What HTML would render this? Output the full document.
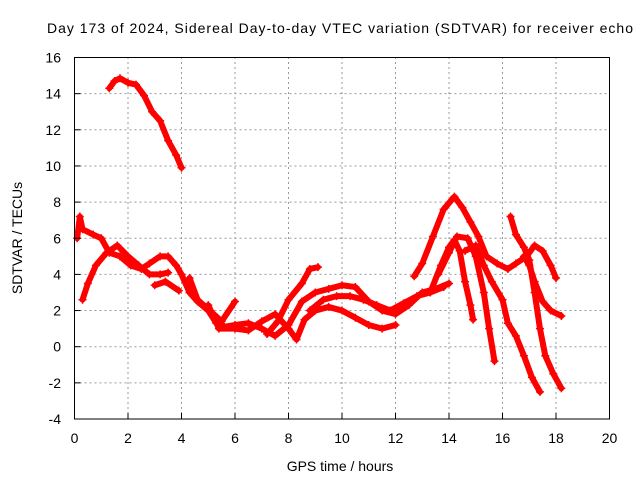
<!DOCTYPE html>
<html><head><meta charset="utf-8"><style>body{margin:0;background:#fff}svg{display:block;font-family:"Liberation Sans",sans-serif}</style></head>
<body>
<svg id="chart" width="640" height="480">
<rect width="640" height="480" fill="#fff"/>
<text x="340" y="33" font-size="14" text-anchor="middle" textLength="586">Day 173 of 2024, Sidereal Day-to-day VTEC variation (SDTVAR) for receiver echo</text>
<g id="grid"></g>
<g id="series"></g>
<rect x="74.5" y="57.5" width="535" height="361.5" fill="none" stroke="#000" stroke-width="1"/>
<g id="ticks" font-size="14"></g>
<text x="340" y="471" font-size="14" text-anchor="middle">GPS time / hours</text>
<text transform="translate(22,238) rotate(-90)" font-size="14" text-anchor="middle">SDTVAR / TECUs</text>
</svg>
<script>
const xTicks=[0,2,4,6,8,10,12,14,16,18,20];
const yTicks=[-4,-2,0,2,4,6,8,10,12,14,16];
const s1=[[1.3,14.3],[1.5,14.7],[1.7,14.85],[2.0,14.6],[2.3,14.5],[2.6,13.9],[2.9,13.0],[3.2,12.5],[3.5,11.4],[3.8,10.6],[4.0,9.9]];
const s2=[[0.3,2.6],[0.5,3.5],[0.8,4.5],[1.2,5.2],[1.6,5.6],[2.0,5.0],[2.4,4.5],[2.8,4.0],[3.2,4.0],[3.5,4.1]];
const s3=[[0.1,6.0],[0.2,7.2],[0.3,6.5],[0.7,6.2],[1.0,6.0],[1.3,5.2],[1.7,5.0],[2.1,4.5],[2.5,4.3],[2.8,4.6],[3.2,5.0],[3.5,5.0],[3.8,4.5],[4.0,4.0],[4.3,3.0],[4.6,2.5],[5.0,2.0],[5.3,1.3],[5.6,1.1],[6.0,1.2],[6.5,1.3],[7.0,1.0],[7.5,0.6],[8.0,1.2],[8.5,2.5],[9.0,3.0],[9.5,3.2],[10.0,3.4],[10.5,3.3],[11.0,2.5],[11.5,2.0],[12.0,1.8],[12.5,2.3],[13.0,3.0],[13.5,3.2],[14.0,3.5]];
const s4=[[3.0,3.4],[3.4,3.6],[3.9,3.1]];
const s5=[[4.3,3.8],[4.6,2.6],[5.2,1.8],[5.5,1.4],[6.0,2.5]];
const s6=[[5.0,2.3],[5.4,1.0],[6.0,1.0],[6.5,0.9],[7.0,1.4],[7.5,1.8],[8.0,1.0],[8.3,0.4],[8.6,1.5],[9.0,2.0],[9.5,2.2],[10.0,2.0],[10.5,1.6],[11.0,1.2],[11.5,1.0],[12.0,1.2]];
const s7=[[7.2,0.7],[7.6,1.4],[8.0,2.6],[8.5,3.5],[8.8,4.3],[9.1,4.4]];
const s8=[[8.8,2.0],[9.3,2.6],[9.8,2.8],[10.3,2.8],[10.8,2.6],[11.3,2.3],[11.8,2.0],[12.3,2.4],[12.8,2.8],[13.3,3.0],[13.8,3.3]];
const s9=[[12.7,3.9],[13.0,4.6],[13.4,6.1],[13.8,7.6],[14.2,8.3],[14.5,7.7],[14.8,6.9],[15.1,6.1],[15.4,5.0],[15.8,4.6],[16.2,4.3],[16.5,4.6],[16.9,5.0],[17.2,5.6],[17.5,5.3],[17.8,4.5],[18.0,3.8]];
const s10=[[13.3,3.0],[13.7,4.5],[14.0,5.5],[14.2,5.9],[14.4,5.3],[14.6,3.6],[14.8,2.3],[14.9,1.5]];
const s11=[[13.6,4.0],[14.0,5.2],[14.3,6.1],[14.7,6.0],[15.0,5.0],[15.3,3.0],[15.5,1.0],[15.7,-0.8]];
const s12=[[14.6,5.3],[15.0,5.6],[15.3,4.5],[15.6,3.6],[16.0,2.6],[16.2,1.3],[16.5,0.6],[16.8,-0.5],[17.1,-1.7],[17.4,-2.5]];
const s13=[[16.3,7.2],[16.5,6.2],[16.8,5.5],[17.0,4.8],[17.2,3.0],[17.4,1.0],[17.6,-0.5],[17.9,-1.5],[18.2,-2.3]];
const s14=[[16.8,5.0],[17.0,4.5],[17.2,3.6],[17.5,2.5],[17.8,2.0],[18.2,1.7]];
const allSeries=[s1,s2,s3,s4,s5,s6,s7,s8,s9,s10,s11,s12,s13,s14];
const NS="http://www.w3.org/2000/svg";
const X=v=>74.5+(v-0)*(535/20);
const Y=v=>419-(v+4)*(361.5/20);
const grid=document.getElementById('grid'),ticks=document.getElementById('ticks'),ser=document.getElementById('series');
function mk(tag,attrs,parent){const e=document.createElementNS(NS,tag);for(const k in attrs)e.setAttribute(k,attrs[k]);parent.appendChild(e);return e;}
xTicks.forEach(t=>{
  if(t>0&&t<20){const g=mk('line',{x1:X(t),x2:X(t),y1:57,y2:419,stroke:'#999','stroke-dasharray':'2,3'},grid);
  
  }
  mk('line',{x1:X(t),x2:X(t),y1:419,y2:413,stroke:'#000'},ticks);
  const l=mk('text',{x:X(t),y:443,'text-anchor':'middle'},ticks);l.textContent=t;
  
  
});
yTicks.forEach(t=>{
  if(t>-4&&t<16){const g=mk('line',{x1:74.5,x2:609.5,y1:Y(t),y2:Y(t),stroke:'#999','stroke-dasharray':'2,3'},grid);
  
  }
  mk('line',{x1:74.5,x2:80.5,y1:Y(t),y2:Y(t),stroke:'#000'},ticks);
  const l=mk('text',{x:61,y:Y(t)+5,'text-anchor':'end'},ticks);l.textContent=t;
  
  
});
allSeries.forEach((s,i)=>{
  const p=mk('polyline',{points:s.map(d=>X(d[0])+','+Y(d[1])).join(' '),fill:'none',stroke:'#f00','stroke-width':6,'stroke-linejoin':'round','stroke-linecap':'round'},ser);
  
  
  s.forEach(d=>{
    const m=mk('path',{d:`M${X(d[0])-4},${Y(d[1])}h8M${X(d[0])},${Y(d[1])-4}v8`,stroke:'#f00','stroke-width':1.5},ser);
    
    
  });
});
</script>
</body></html>
